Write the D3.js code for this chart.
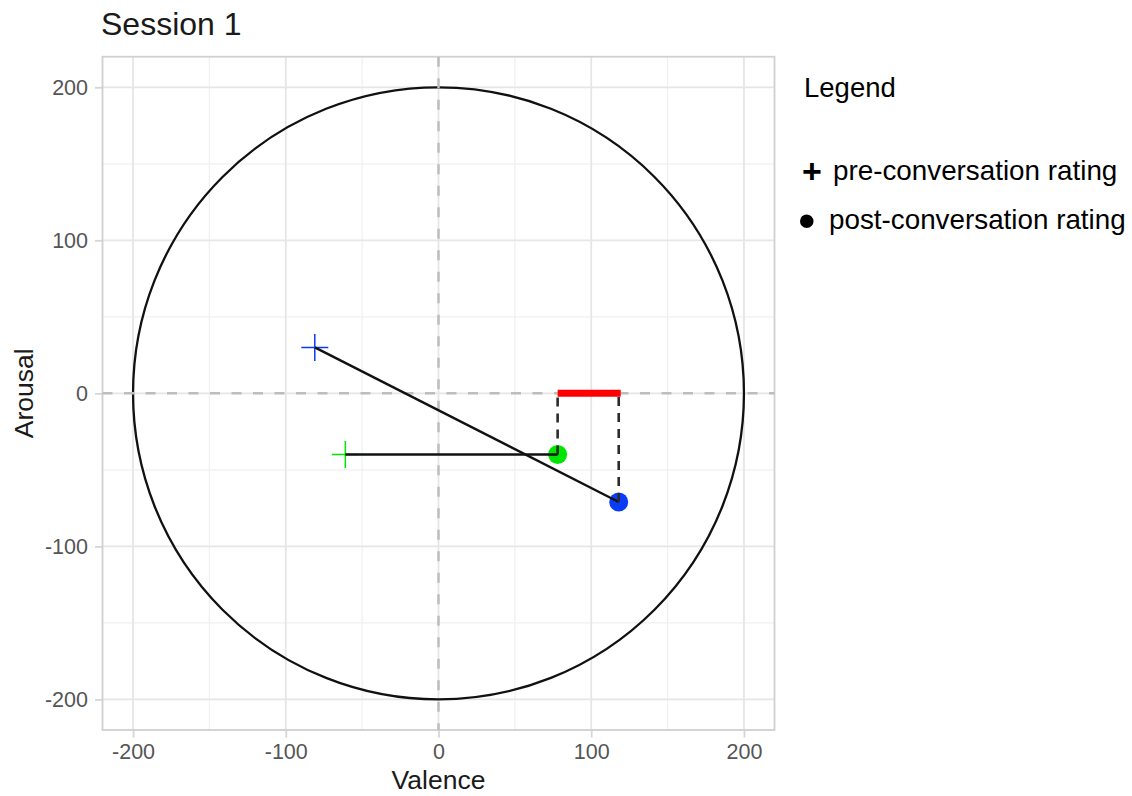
<!DOCTYPE html>
<html>
<head>
<meta charset="utf-8">
<script src="https://cdn.jsdelivr.net/npm/d3@7"></script>
<style>
  body { margin: 0; background: #fff; }
  svg { display: block; font-family: "Liberation Sans", Arial, sans-serif; }
</style>
</head>
<body>
<svg id="chart" width="1132" height="796"></svg>
<script>
// ratings per conversation partner (blue, green)
const raters = ['blue', 'green'];
const raterColors = ['#0a3cf5', '#00e600'];
const preValence = [-81, -61];
const preArousal = [30, -40];
const postValence = [118, 78];
const postArousal = [-71, -40];

const majorTicks = [-200, -100, 0, 100, 200];
const minorTicks = [-150, -50, 50, 150];
const circleRadius = 200;

const legendLabels = ['pre-conversation rating', 'post-conversation rating'];
const legendSymbols = ['+', '\u2022'];

const svg = d3.select('#chart');
const panel = { left: 102.5, right: 774.5, top: 56.7, bottom: 730 };

const x = d3.scaleLinear().domain([-220, 220]).range([panel.left, panel.right]);
const y = d3.scaleLinear().domain([-220, 220]).range([panel.bottom, panel.top]);

// grid
const grid = svg.append('g');
grid.selectAll('.minor-x').data(minorTicks).join('line')
    .attr('x1', d => x(d)).attr('x2', d => x(d))
    .attr('y1', panel.top).attr('y2', panel.bottom)
    .attr('stroke', '#f0f0f0').attr('stroke-width', 1.2);
grid.selectAll('.minor-y').data(minorTicks).join('line')
    .attr('y1', d => y(d)).attr('y2', d => y(d))
    .attr('x1', panel.left).attr('x2', panel.right)
    .attr('stroke', '#f0f0f0').attr('stroke-width', 1.2);
grid.selectAll('.major-x').data(majorTicks).join('line')
    .attr('x1', d => x(d)).attr('x2', d => x(d))
    .attr('y1', panel.top).attr('y2', panel.bottom)
    .attr('stroke', '#e6e6e6').attr('stroke-width', 1.8);
grid.selectAll('.major-y').data(majorTicks).join('line')
    .attr('y1', d => y(d)).attr('y2', d => y(d))
    .attr('x1', panel.left).attr('x2', panel.right)
    .attr('stroke', '#e6e6e6').attr('stroke-width', 1.8);

// axes
const xAxis = svg.append('g')
    .attr('transform', `translate(0,${panel.bottom})`)
    .call(d3.axisBottom(x).tickValues(majorTicks).tickSize(7.5).tickPadding(6));
const yAxis = svg.append('g')
    .attr('transform', `translate(${panel.left},0)`)
    .call(d3.axisLeft(y).tickValues(majorTicks).tickSize(7.5).tickPadding(7));
[xAxis, yAxis].forEach(a => {
    a.select('.domain').remove();
    a.selectAll('.tick line').attr('stroke', '#d6d6d6').attr('stroke-width', 1.8);
    a.selectAll('.tick text')
        .attr('fill', '#555')
        .attr('font-size', '21.5px')
        .attr('font-family', '"Liberation Sans", Arial, sans-serif')
        .text(d => String(d));
});

// panel border
svg.append('rect')
    .attr('x', panel.left).attr('y', panel.top)
    .attr('width', panel.right - panel.left).attr('height', panel.bottom - panel.top)
    .attr('fill', 'none').attr('stroke', '#d0d0d0').attr('stroke-width', 1.8);

// circumplex circle
svg.append('ellipse')
    .attr('cx', x(0)).attr('cy', y(0))
    .attr('rx', x(circleRadius) - x(0)).attr('ry', y(0) - y(circleRadius))
    .attr('fill', 'none').attr('stroke', '#111').attr('stroke-width', 2.3);

// dashed zero lines
svg.append('line')
    .attr('x1', x(0)).attr('x2', x(0)).attr('y1', panel.top).attr('y2', panel.bottom)
    .attr('stroke', '#bdbdbd').attr('stroke-width', 2.5).attr('stroke-dasharray', '10,11.5');
svg.append('line')
    .attr('y1', y(0)).attr('y2', y(0)).attr('x1', panel.left).attr('x2', panel.right)
    .attr('stroke', '#bdbdbd').attr('stroke-width', 2.5).attr('stroke-dasharray', '10,11.5');

// red segment: valence change between post ratings
svg.append('line')
    .attr('x1', x(d3.min(postValence))).attr('x2', x(d3.max(postValence)) + 2)
    .attr('y1', y(0)).attr('y2', y(0))
    .attr('stroke', '#ff0000').attr('stroke-width', 7);

const idx = d3.range(raters.length);

// pre ratings: plus markers
const plusSize = 13.5;
idx.forEach(i => {
    const cx = x(preValence[i]), cy = y(preArousal[i]);
    svg.append('path')
        .attr('d', `M${cx - plusSize},${cy}H${cx + plusSize}M${cx},${cy - plusSize}V${cy + plusSize}`)
        .attr('stroke', raterColors[i]).attr('stroke-width', 1.5).attr('fill', 'none');
});

// post ratings: dots
svg.selectAll('.post').data(idx).join('circle')
    .attr('cx', i => x(postValence[i])).attr('cy', i => y(postArousal[i]))
    .attr('r', 9.5)
    .attr('fill', i => raterColors[i]);

// connecting lines pre -> post
svg.selectAll('.link').data(idx).join('line')
    .attr('x1', i => x(preValence[i])).attr('y1', i => y(preArousal[i]))
    .attr('x2', i => x(postValence[i])).attr('y2', i => y(postArousal[i]))
    .attr('stroke', '#111').attr('stroke-width', 2.4);

// dashed drop lines from post ratings to the valence axis
svg.selectAll('.drop').data(idx).join('line')
    .attr('x1', i => x(postValence[i])).attr('x2', i => x(postValence[i]))
    .attr('y1', i => y(postArousal[i])).attr('y2', y(0))
    .attr('stroke', '#2a2a2a').attr('stroke-width', 2.6).attr('stroke-dasharray', '9,7');

// titles
svg.append('text')
    .attr('x', 101).attr('y', 35)
    .attr('font-size', '32px').attr('fill', '#1a1a1a')
    .text('Session 1');
svg.append('text')
    .attr('x', x(0)).attr('y', 789)
    .attr('text-anchor', 'middle')
    .attr('font-size', '26.5px').attr('fill', '#1a1a1a')
    .text('Valence');
svg.append('text')
    .attr('transform', `translate(33,${y(0)}) rotate(-90)`)
    .attr('text-anchor', 'middle')
    .attr('font-size', '26.5px').attr('fill', '#1a1a1a')
    .text('Arousal');

// legend
svg.append('text')
    .attr('x', 804).attr('y', 97)
    .attr('font-size', '27.5px').attr('fill', '#000')
    .text('Legend');
const legendY = [180, 229];
legendLabels.forEach((label, i) => {
    svg.append('text')
        .attr('x', i === 0 ? 802 : 798).attr('y', i === 0 ? legendY[i] + 3 : legendY[i] + 9)
        .attr('font-size', i === 0 ? '34px' : '50px')
        .attr('font-weight', i === 0 ? 'bold' : 'normal')
        .attr('fill', '#000')
        .text(legendSymbols[i]);
    svg.append('text')
        .attr('x', i === 0 ? 833 : 829).attr('y', legendY[i])
        .attr('font-size', '27.8px').attr('fill', '#000')
        .text(label);
});
</script>
</body>
</html>
